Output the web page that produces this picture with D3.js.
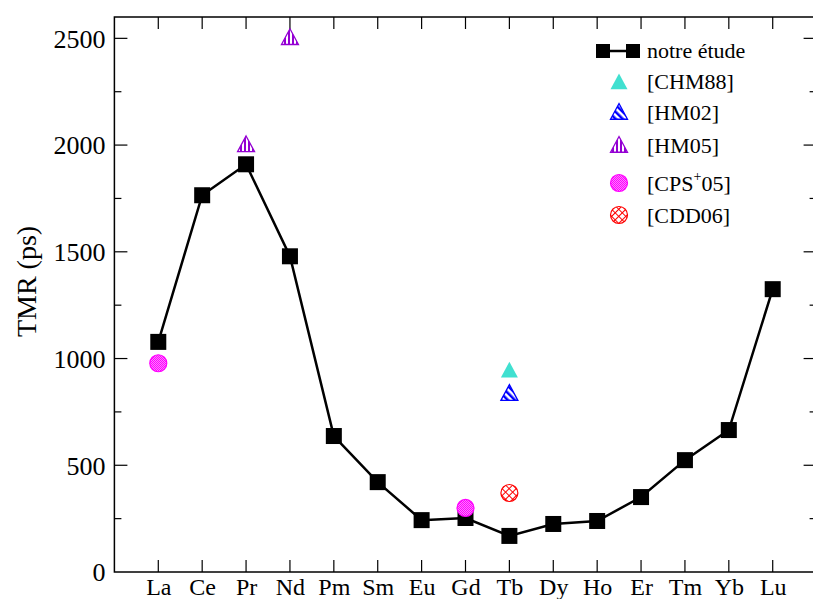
<!DOCTYPE html>
<html><head><meta charset="utf-8">
<script src="https://cdn.jsdelivr.net/npm/d3@7"></script>
<style>body{margin:0;background:#fff}svg{display:block}</style>
</head><body>
<svg id="c" width="813" height="599"></svg>
<script>
const elements = ["La","Ce","Pr","Nd","Pm","Sm","Eu","Gd","Tb","Dy","Ho","Er","Tm","Yb","Lu"];
const notreEtude = [1078,1765,1910,1479,637,421,243,253,169,225,239,351,524,665,1325];
const chm88 = [{el:"Tb", v:945}];
const hm02 = [{el:"Tb", v:838}];
const hm05 = [{el:"Pr", v:2003},{el:"Nd", v:2505}];
const cps05 = [{el:"La", v:978},{el:"Gd", v:300}];
const cdd06 = [{el:"Tb", v:370}];
const yTicks = [0,500,1000,1500,2000,2500];

const FF = "Liberation Serif, DejaVu Serif, Times New Roman, serif";
const svg = d3.select("#c");
const L=114.4, R=816.6, T=17, B=572;
const x = d3.scaleLinear().domain([0,16]).range([L,R]);
const y = d3.scaleLinear().domain([0,2600]).range([B,T]);
const xi = el => x(elements.indexOf(el)+1);

// patterns
const defs = svg.append("defs");
let p = defs.append("pattern").attr("id","pHM02").attr("patternUnits","userSpaceOnUse").attr("width",5).attr("height",5).attr("patternTransform","rotate(-45)");
p.append("rect").attr("width",2.5).attr("height",5).attr("fill","#0000ff");
p = defs.append("pattern").attr("id","pHM05").attr("patternUnits","userSpaceOnUse").attr("width",4).attr("height",4);
p.append("rect").attr("width",2).attr("height",4).attr("fill","#9400d3");
p = defs.append("pattern").attr("id","pCPS").attr("patternUnits","userSpaceOnUse").attr("width",2).attr("height",2);
p.append("rect").attr("width",2).attr("height",2).attr("fill","#ff80ff");
p.append("rect").attr("width",1).attr("height",1).attr("fill","#ff00ff");
p.append("rect").attr("x",1).attr("y",1).attr("width",1).attr("height",1).attr("fill","#ff00ff");
p = defs.append("pattern").attr("id","pCDD").attr("patternUnits","userSpaceOnUse").attr("width",5).attr("height",5).attr("patternTransform","rotate(45)");
p.append("rect").attr("width",1).attr("height",5).attr("fill","#ff0000");
p.append("rect").attr("width",5).attr("height",1).attr("fill","#ff0000");

// frame
svg.append("rect").attr("x",L).attr("y",T).attr("width",R-L).attr("height",B-T).attr("fill","none").attr("stroke","#000").attr("stroke-width",1.5);

// axes
const yAxis = d3.axisLeft(y).tickValues(yTicks).tickFormat(d3.format("d")).tickSize(0).tickPadding(9);
const gy = svg.append("g").attr("transform",`translate(${L},0)`).call(yAxis).attr("font-family",FF);
gy.select(".domain").remove();
gy.selectAll("text").attr("font-family",FF).attr("font-size",26).attr("fill","#000").attr("dy","0.34em");
const xAxis = d3.axisBottom(x).tickValues(d3.range(1,16)).tickFormat(i=>elements[i-1]).tickSize(0).tickPadding(6);
const gx = svg.append("g").attr("transform",`translate(0,${B})`).call(xAxis).attr("font-family",FF);
gx.select(".domain").remove();
gx.selectAll("text").attr("font-family",FF).attr("font-size",24).attr("fill","#000");

// inward ticks
const tk = svg.append("g").attr("stroke","#000").attr("stroke-width",1.2);
const minors = d3.range(250,2600,500);
yTicks.forEach(v=>{ if(v>0){
  tk.append("line").attr("x1",L).attr("x2",L+13).attr("y1",y(v)).attr("y2",y(v));
  tk.append("line").attr("x1",R).attr("x2",R-13).attr("y1",y(v)).attr("y2",y(v));}});
minors.forEach(v=>{
  tk.append("line").attr("x1",L).attr("x2",L+7).attr("y1",y(v)).attr("y2",y(v));
  tk.append("line").attr("x1",R).attr("x2",R-7).attr("y1",y(v)).attr("y2",y(v));});
d3.range(1,16).forEach(i=>{
  tk.append("line").attr("x1",x(i)).attr("x2",x(i)).attr("y1",B).attr("y2",B-12);
  tk.append("line").attr("x1",x(i)).attr("x2",x(i)).attr("y1",T).attr("y2",T+12);});

// y label
svg.append("text").attr("transform",`translate(36,${(T+B)/2-13}) rotate(-90)`).attr("text-anchor","middle").attr("font-size",28).attr("font-family",FF).text("TMR (ps)");

// line
const line = d3.line().x((d,i)=>x(i+1)).y(d=>y(d));
svg.append("path").datum(notreEtude).attr("d",line).attr("fill","none").attr("stroke","#000").attr("stroke-width",2.5);
svg.selectAll(".sq").data(notreEtude).enter().append("rect").attr("x",(d,i)=>x(i+1)-8).attr("y",d=>y(d)-8).attr("width",16).attr("height",16).attr("fill","#000");

function tri(g,cx,cy,fill,stroke){
  const s=8.5;
  g.append("path").attr("d",`M${cx},${cy-s}L${cx+s},${cy+s*0.85}L${cx-s},${cy+s*0.85}Z`).attr("fill",fill).attr("stroke",stroke).attr("stroke-width",stroke==="none"?0:1.3);
}
function circ(g,cx,cy,fill,stroke){
  g.append("circle").attr("cx",cx).attr("cy",cy).attr("r",8.5).attr("fill",fill).attr("stroke",stroke).attr("stroke-width",1.2);
}
const gm = svg.append("g");
chm88.forEach(d=>tri(gm,xi(d.el),y(d.v),"#40e0d0","none"));
hm02.forEach(d=>tri(gm,xi(d.el),y(d.v),"url(#pHM02)","#0000ff"));
hm05.forEach(d=>tri(gm,xi(d.el),y(d.v),"url(#pHM05)","#9400d3"));
cps05.forEach(d=>circ(gm,xi(d.el),y(d.v),"url(#pCPS)","#ff00ff"));
cdd06.forEach(d=>circ(gm,xi(d.el),y(d.v),"url(#pCDD)","#ff0000"));

// legend
const lg = svg.append("g").attr("font-family",FF);
const lx = 619, tx = 647;
lg.append("line").attr("x1",603).attr("x2",633).attr("y1",51).attr("y2",51).attr("stroke","#000").attr("stroke-width",2.5);
[603,633].forEach(cx=>lg.append("rect").attr("x",cx-7).attr("y",44).attr("width",14).attr("height",14).attr("fill","#000"));
tri(lg,lx,82,"#40e0d0","none");
tri(lg,lx,112,"url(#pHM02)","#0000ff");
tri(lg,lx,145,"url(#pHM05)","#9400d3");
circ(lg,lx,183,"url(#pCPS)","#ff00ff");
circ(lg,lx,215,"url(#pCDD)","#ff0000");
const fs=22;
const addT=(yy,s)=>lg.append("text").attr("x",tx).attr("y",yy).attr("font-size",fs).attr("font-family",FF).text(s);
addT(58,"notre étude");
addT(89,"[CHM88]");
addT(120,"[HM02]");
addT(153,"[HM05]");
const t5 = lg.append("text").attr("x",tx).attr("y",191).attr("font-size",fs).attr("font-family",FF);
t5.append("tspan").text("[CPS");
t5.append("tspan").attr("dy",-10).attr("font-size",14).text("+");
t5.append("tspan").attr("dy",10).text("05]");
addT(223,"[CDD06]");
</script>
</body></html>
